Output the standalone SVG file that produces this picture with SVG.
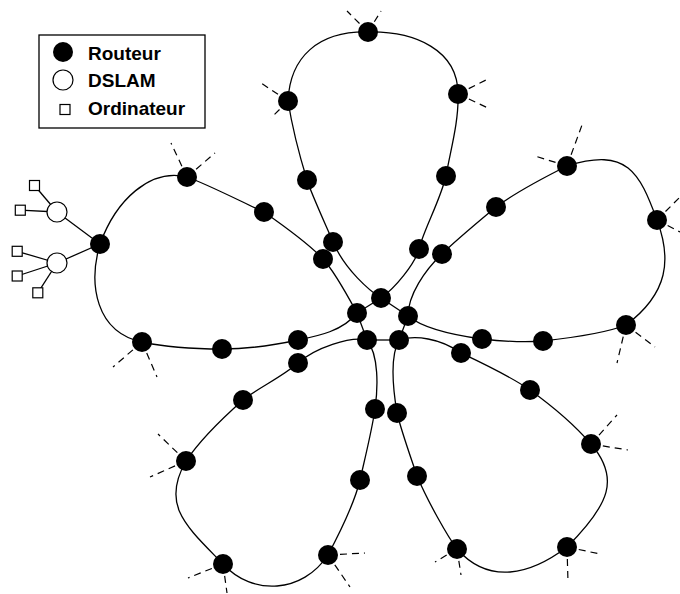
<svg xmlns="http://www.w3.org/2000/svg" width="680" height="594" viewBox="0 0 680 594">
  <style>
    .link { fill: none; stroke: #000; stroke-width: 1.3; }
    .stub { fill: none; stroke: #000; stroke-width: 1.2; stroke-dasharray: 7 5; }
    .router { fill: #000; }
    .dslam { fill: #fff; stroke: #000; stroke-width: 1.2; }
    .pc { fill: #fff; stroke: #000; stroke-width: 1.2; }
    .legend-box { fill: #fff; stroke: #000; stroke-width: 1.3; }
    .label { font-family: "Liberation Sans", Arial, sans-serif; font-weight: bold; font-size: 19px; fill: #000; }
  </style>

  <!-- Legend -->
  <g id="legend">
    <rect class="legend-box" x="39" y="35" width="166" height="93"/>
    <circle class="router" cx="63" cy="52" r="10"/>
    <text class="label" x="88" y="60">Routeur</text>
    <circle class="dslam" cx="63" cy="80" r="10"/>
    <text class="label" x="88" y="87">DSLAM</text>
    <rect class="pc" x="60" y="104.5" width="10" height="10"/>
    <text class="label" x="88" y="115">Ordinateur</text>
  </g>

  <!-- Connectors -->
  <g id="connectors">
    <!-- petal rings, each closing on one core router -->
    <path class="link" d="M381,298 C370,291 345,270 333,242 C328,230 311,193 307,180 C299,154 292,126 288,101 C290,57 318,31 368,32 C415,31 458,50 458,94 C459,122 450,152 446,176 C440,201 424,229 419,249 C415,264 395,288 381,298"/>
    <path class="link" d="M357,313 C351,302 335,272 323,259 C311,246 284,226 264,212 C246,204 207,184 187,177 C150,168 116,200 100,244 C88,285 96,332 142,342 C165,347 195,349 222,349 C250,349 275,345 298,340 C318,336 343,331 357,313"/>
    <path class="link" d="M408,316 C408,295 425,270 442,254 C455,241 478,222 496,207 C515,193 545,177 567,166 C627.5,147 639.3,172.4 657,220 C671.5,258.8 668.9,292.8 626,325 C606,333 570,338 543,341 C520,343 500,341 482,339 C460,336 425,330 408,316"/>
    <path class="link" d="M399,340 C415,335 440,338 461,353 C480,362 510,376 530,390 C548,403 572,422 591,444 C620,478 610,504 567,547 C530,575 489,585 457,549 C448,537 428,502 417,476 C411,458 401,430 397,413 C394,395 389,358 399,340"/>
    <path class="link" d="M367,340 C350,336 315,348 298,363 C282,377 258,388 243,400 C225,416 200,440 186,461 C160.4,505.5 186.3,526.2 223,564 C252.6,596.4 302.6,593.3 328,555 C337,538 354,505 360,480 C365,458 372,430 375,409 C378,388 379,355 367,340"/>

    <!-- core ring -->
    <line class="link" x1="381" y1="298" x2="357" y2="313"/>
    <line class="link" x1="381" y1="298" x2="408" y2="316"/>
    <line class="link" x1="357" y1="313" x2="367" y2="340"/>
    <line class="link" x1="408" y1="316" x2="399" y2="340"/>
    <line class="link" x1="367" y1="340" x2="399" y2="340"/>

    <!-- access network -->
    <line class="link" x1="100" y1="244" x2="57" y2="212"/>
    <line class="link" x1="100" y1="244" x2="57" y2="263"/>
    <line class="link" x1="57" y1="212" x2="34.5" y2="185.5"/>
    <line class="link" x1="57" y1="212" x2="20.3" y2="210.2"/>
    <line class="link" x1="57" y1="263" x2="17.2" y2="251.3"/>
    <line class="link" x1="57" y1="263" x2="17.2" y2="276"/>
    <line class="link" x1="57" y1="263" x2="37.8" y2="292.8"/>

    <!-- external links -->
    <line class="stub" x1="368" y1="32" x2="347" y2="11"/>
    <line class="stub" x1="368" y1="32" x2="381" y2="11"/>
    <line class="stub" x1="288" y1="101" x2="261" y2="83"/>
    <line class="stub" x1="288" y1="101" x2="271" y2="118"/>
    <line class="stub" x1="458" y1="94" x2="486" y2="80"/>
    <line class="stub" x1="458" y1="94" x2="488" y2="108"/>
    <line class="stub" x1="187" y1="177" x2="171" y2="143"/>
    <line class="stub" x1="187" y1="177" x2="215" y2="153"/>
    <line class="stub" x1="567" y1="166" x2="535" y2="156"/>
    <line class="stub" x1="567" y1="166" x2="582" y2="125"/>
    <line class="stub" x1="657" y1="220" x2="680" y2="197"/>
    <line class="stub" x1="657" y1="220" x2="680" y2="232"/>
    <line class="stub" x1="626" y1="325" x2="617" y2="363"/>
    <line class="stub" x1="626" y1="325" x2="655" y2="347"/>
    <line class="stub" x1="142" y1="342" x2="113" y2="367"/>
    <line class="stub" x1="142" y1="342" x2="157" y2="377"/>
    <line class="stub" x1="186" y1="461" x2="158" y2="434"/>
    <line class="stub" x1="186" y1="461" x2="150" y2="477"/>
    <line class="stub" x1="223" y1="564" x2="188" y2="578"/>
    <line class="stub" x1="223" y1="564" x2="227" y2="593"/>
    <line class="stub" x1="328" y1="555" x2="365" y2="553"/>
    <line class="stub" x1="328" y1="555" x2="350" y2="587"/>
    <line class="stub" x1="591" y1="444" x2="617" y2="415"/>
    <line class="stub" x1="591" y1="444" x2="628" y2="450"/>
    <line class="stub" x1="457" y1="549" x2="435" y2="562"/>
    <line class="stub" x1="457" y1="549" x2="461" y2="575"/>
    <line class="stub" x1="567" y1="547" x2="600" y2="554"/>
    <line class="stub" x1="567" y1="547" x2="568" y2="582"/>
  </g>

  <!-- Core routers -->
  <g id="core-n"><circle class="router" cx="381" cy="298" r="10"/></g>
  <g id="core-w"><circle class="router" cx="357" cy="313" r="10"/></g>
  <g id="core-e"><circle class="router" cx="408" cy="316" r="10"/></g>
  <g id="core-sw"><circle class="router" cx="367" cy="340" r="10"/></g>
  <g id="core-se"><circle class="router" cx="399" cy="340" r="10"/></g>

  <!-- North ring -->
  <g id="n1"><circle class="router" cx="333" cy="242" r="10"/></g>
  <g id="n2"><circle class="router" cx="307" cy="180" r="10"/></g>
  <g id="n3"><circle class="router" cx="288" cy="101" r="10"/></g>
  <g id="n4"><circle class="router" cx="368" cy="32" r="10"/></g>
  <g id="n5"><circle class="router" cx="458" cy="94" r="10"/></g>
  <g id="n6"><circle class="router" cx="446" cy="176" r="10"/></g>
  <g id="n7"><circle class="router" cx="419" cy="249" r="10"/></g>

  <!-- West ring -->
  <g id="w1"><circle class="router" cx="323" cy="259" r="10"/></g>
  <g id="w2"><circle class="router" cx="264" cy="212" r="10"/></g>
  <g id="w3"><circle class="router" cx="187" cy="177" r="10"/></g>
  <g id="w4"><circle class="router" cx="100" cy="244" r="10"/></g>
  <g id="w5"><circle class="router" cx="142" cy="342" r="10"/></g>
  <g id="w6"><circle class="router" cx="222" cy="349" r="10"/></g>
  <g id="w7"><circle class="router" cx="298" cy="340" r="10"/></g>

  <!-- East ring -->
  <g id="e1"><circle class="router" cx="442" cy="254" r="10"/></g>
  <g id="e2"><circle class="router" cx="496" cy="207" r="10"/></g>
  <g id="e3"><circle class="router" cx="567" cy="166" r="10"/></g>
  <g id="e4"><circle class="router" cx="657" cy="220" r="10"/></g>
  <g id="e5"><circle class="router" cx="626" cy="325" r="10"/></g>
  <g id="e6"><circle class="router" cx="543" cy="341" r="10"/></g>
  <g id="e7"><circle class="router" cx="482" cy="339" r="10"/></g>

  <!-- South-east ring -->
  <g id="se1"><circle class="router" cx="461" cy="353" r="10"/></g>
  <g id="se2"><circle class="router" cx="530" cy="390" r="10"/></g>
  <g id="se3"><circle class="router" cx="591" cy="444" r="10"/></g>
  <g id="se4"><circle class="router" cx="567" cy="547" r="10"/></g>
  <g id="se5"><circle class="router" cx="457" cy="549" r="10"/></g>
  <g id="se6"><circle class="router" cx="417" cy="476" r="10"/></g>
  <g id="se7"><circle class="router" cx="397" cy="413" r="10"/></g>

  <!-- South-west ring -->
  <g id="sw1"><circle class="router" cx="298" cy="363" r="10"/></g>
  <g id="sw2"><circle class="router" cx="243" cy="400" r="10"/></g>
  <g id="sw3"><circle class="router" cx="186" cy="461" r="10"/></g>
  <g id="sw4"><circle class="router" cx="223" cy="564" r="10"/></g>
  <g id="sw5"><circle class="router" cx="328" cy="555" r="10"/></g>
  <g id="sw6"><circle class="router" cx="360" cy="480" r="10"/></g>
  <g id="sw7"><circle class="router" cx="375" cy="409" r="10"/></g>

  <!-- DSLAMs -->
  <g id="dslam-1"><circle class="dslam" cx="57" cy="212" r="10"/></g>
  <g id="dslam-2"><circle class="dslam" cx="57" cy="263" r="10"/></g>

  <!-- Computers -->
  <g id="pc-1"><rect class="pc" x="29.5" y="180.5" width="10" height="10"/></g>
  <g id="pc-2"><rect class="pc" x="15.3" y="205.2" width="10" height="10"/></g>
  <g id="pc-3"><rect class="pc" x="12.2" y="246.3" width="10" height="10"/></g>
  <g id="pc-4"><rect class="pc" x="12.2" y="271" width="10" height="10"/></g>
  <g id="pc-5"><rect class="pc" x="32.8" y="287.8" width="10" height="10"/></g>
</svg>
